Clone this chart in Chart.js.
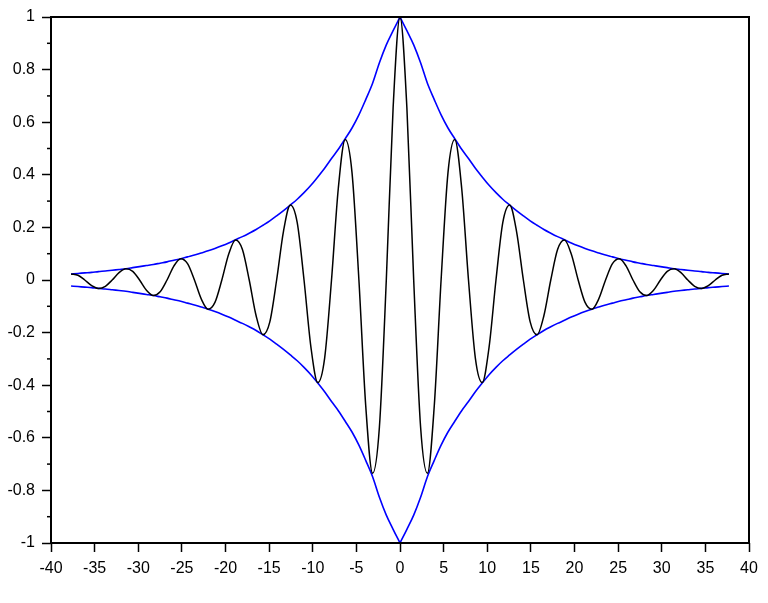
<!DOCTYPE html>
<html>
<head>
<meta charset="utf-8">
<script src="https://cdn.jsdelivr.net/npm/chart.js@4"></script>
<style>
  body { margin: 0; background: #fff; }
</style>
</head>
<body>
<canvas id="chart" width="768" height="603"></canvas>
<script>
'use strict';

// sample positions (quarter periods)
const xs = [
  -37.70, -36.91, -36.13, -35.34, -34.56, -33.77, -32.99, -32.20,
  -31.42, -30.63, -29.85, -29.06, -28.27, -27.49, -26.70, -25.92,
  -25.13, -24.35, -23.56, -22.78, -21.99, -21.21, -20.42, -19.63,
  -18.85, -18.06, -17.28, -16.49, -15.71, -14.92, -14.14, -13.35,
  -12.57, -11.78, -11.00, -10.21, -9.42, -8.64, -7.85, -7.07,
  -6.28, -5.50, -4.71, -3.93, -3.14, -2.36, -1.57, -0.79,
  0,
  0.79, 1.57, 2.36, 3.14, 3.93, 4.71, 5.50, 6.28,
  7.07, 7.85, 8.64, 9.42, 10.21, 11.00, 11.78, 12.57,
  13.35, 14.14, 14.92, 15.71, 16.49, 17.28, 18.06, 18.85,
  19.63, 20.42, 21.21, 21.99, 22.78, 23.56, 24.35, 25.13,
  25.92, 26.70, 27.49, 28.27, 29.06, 29.85, 30.63, 31.42,
  32.20, 32.99, 33.77, 34.56, 35.34, 36.13, 36.91, 37.70
];

// black oscillating curve
const wave = [
  0.023, 0.018, 0, -0.021, -0.032, -0.024, 0, 0.028,
  0.043, 0.033, 0, -0.039, -0.059, -0.045, 0, 0.053,
  0.081, 0.062, 0, -0.072, -0.111, -0.085, 0, 0.099,
  0.152, 0.116, 0, -0.136, -0.208, -0.159, 0, 0.186,
  0.285, 0.218, 0, -0.255, -0.390, -0.298, 0, 0.349,
  0.534, 0.408, 0, -0.477, -0.735, -0.559, 0, 0.654,
  1,
  0.654, 0, -0.559, -0.735, -0.477, 0, 0.408, 0.534,
  0.349, 0, -0.298, -0.390, -0.255, 0, 0.218, 0.285,
  0.186, 0, -0.159, -0.208, -0.136, 0, 0.116, 0.152,
  0.099, 0, -0.085, -0.111, -0.072, 0, 0.062, 0.081,
  0.053, 0, -0.045, -0.059, -0.039, 0, 0.033, 0.043,
  0.028, 0, -0.024, -0.032, -0.021, 0, 0.018, 0.023
];

// blue envelope, upper and lower
const envUp = [
  0.023, 0.025, 0.027, 0.029, 0.032, 0.034, 0.037, 0.040,
  0.043, 0.047, 0.051, 0.055, 0.059, 0.064, 0.069, 0.075,
  0.081, 0.088, 0.095, 0.103, 0.111, 0.120, 0.130, 0.141,
  0.153, 0.165, 0.178, 0.192, 0.208, 0.225, 0.244, 0.264,
  0.285, 0.307, 0.332, 0.360, 0.392, 0.425, 0.462, 0.497,
  0.537, 0.578, 0.628, 0.686, 0.748, 0.826, 0.894, 0.948,
  1,
  0.948, 0.894, 0.826, 0.748, 0.686, 0.628, 0.578, 0.537,
  0.497, 0.462, 0.425, 0.392, 0.360, 0.332, 0.307, 0.285,
  0.264, 0.244, 0.225, 0.208, 0.192, 0.178, 0.165, 0.153,
  0.141, 0.130, 0.120, 0.111, 0.103, 0.095, 0.088, 0.081,
  0.075, 0.069, 0.064, 0.059, 0.055, 0.051, 0.047, 0.043,
  0.040, 0.037, 0.034, 0.032, 0.029, 0.027, 0.025, 0.023
];
const envLow = [
  -0.023, -0.025, -0.027, -0.029, -0.032, -0.034, -0.037, -0.040,
  -0.043, -0.047, -0.051, -0.055, -0.059, -0.064, -0.069, -0.075,
  -0.081, -0.088, -0.095, -0.103, -0.111, -0.120, -0.130, -0.141,
  -0.153, -0.165, -0.178, -0.192, -0.208, -0.225, -0.244, -0.264,
  -0.285, -0.307, -0.332, -0.360, -0.392, -0.425, -0.462, -0.497,
  -0.537, -0.578, -0.628, -0.686, -0.748, -0.826, -0.894, -0.948,
  -1,
  -0.948, -0.894, -0.826, -0.748, -0.686, -0.628, -0.578, -0.537,
  -0.497, -0.462, -0.425, -0.392, -0.360, -0.332, -0.307, -0.285,
  -0.264, -0.244, -0.225, -0.208, -0.192, -0.178, -0.165, -0.153,
  -0.141, -0.130, -0.120, -0.111, -0.103, -0.095, -0.088, -0.081,
  -0.075, -0.069, -0.064, -0.059, -0.055, -0.051, -0.047, -0.043,
  -0.040, -0.037, -0.034, -0.032, -0.029, -0.027, -0.025, -0.023
];

// axis ticks
const xTicks = [-40, -35, -30, -25, -20, -15, -10, -5, 0, 5, 10, 15, 20, 25, 30, 35, 40];
const yTicks = [-1, -0.8, -0.6, -0.4, -0.2, 0, 0.2, 0.4, 0.6, 0.8, 1];
const yMinor = [-0.9, -0.7, -0.5, -0.3, -0.1, 0.1, 0.3, 0.5, 0.7, 0.9];

const pts = (ys, from, to) => xs.slice(from, to).map((x, i) => ({ x: x, y: ys[from + i] }));
const MID = 48; // index of x = 0, where the envelope has its point

// box round the plot + short minor ticks on the y axis
const frame = {
  id: 'frame',
  afterDraw(chart) {
    const ctx = chart.ctx;
    const a = chart.chartArea;
    const y = chart.scales.y;
    ctx.save();
    ctx.strokeStyle = '#000';
    ctx.lineWidth = 2;
    ctx.strokeRect(a.left, a.top, a.right - a.left, a.bottom - a.top);
    ctx.lineWidth = 1.5;
    yMinor.forEach(v => {
      const p = y.getPixelForValue(v);
      ctx.beginPath();
      ctx.moveTo(a.left - 4, p);
      ctx.lineTo(a.left, p);
      ctx.stroke();
    });
    ctx.restore();
  }
};

const blue = (d) => ({ data: d, borderColor: '#0000ff', borderWidth: 1.6, pointRadius: 0,
  cubicInterpolationMode: 'monotone' });

const tickFont = { family: '"Liberation Sans", Arial, sans-serif', size: 16 };

new Chart(document.getElementById('chart'), {
  type: 'line',
  data: {
    datasets: [
      { data: pts(wave, 0, xs.length), borderColor: '#000', borderWidth: 1.5, pointRadius: 0,
        cubicInterpolationMode: 'monotone' },
      blue(pts(envUp, 0, MID + 1)),
      blue(pts(envUp, MID, xs.length)),
      blue(pts(envLow, 0, MID + 1)),
      blue(pts(envLow, MID, xs.length))
    ]
  },
  options: {
    responsive: false,
    animation: false,
    layout: { padding: { left: 0, top: 17, right: 19, bottom: 0 } },
    plugins: { legend: { display: false }, tooltip: { enabled: false } },
    scales: {
      x: {
        type: 'linear',
        min: -40, max: 40,
        afterBuildTicks: (s) => { s.ticks = xTicks.map(v => ({ value: v })); },
        ticks: { padding: 7, maxRotation: 0, autoSkip: false, color: '#000', font: tickFont,
          callback: (v) => String(v) },
        grid: { drawOnChartArea: false, tickLength: 9, tickColor: '#000', tickWidth: 1.5 },
        border: { display: false },
        afterFit: (s) => { s.height = 60; }
      },
      y: {
        min: -1, max: 1,
        afterBuildTicks: (s) => { s.ticks = yTicks.map(v => ({ value: v })); },
        ticks: { padding: 7, autoSkip: false, color: '#000', font: tickFont,
          callback: (v) => String(Math.round(v * 10) / 10) },
        grid: { drawOnChartArea: false, tickLength: 9, tickColor: '#000', tickWidth: 1.5 },
        border: { display: false },
        afterFit: (s) => { s.width = 51; }
      }
    }
  },
  plugins: [frame]
});
</script>
</body>
</html>
